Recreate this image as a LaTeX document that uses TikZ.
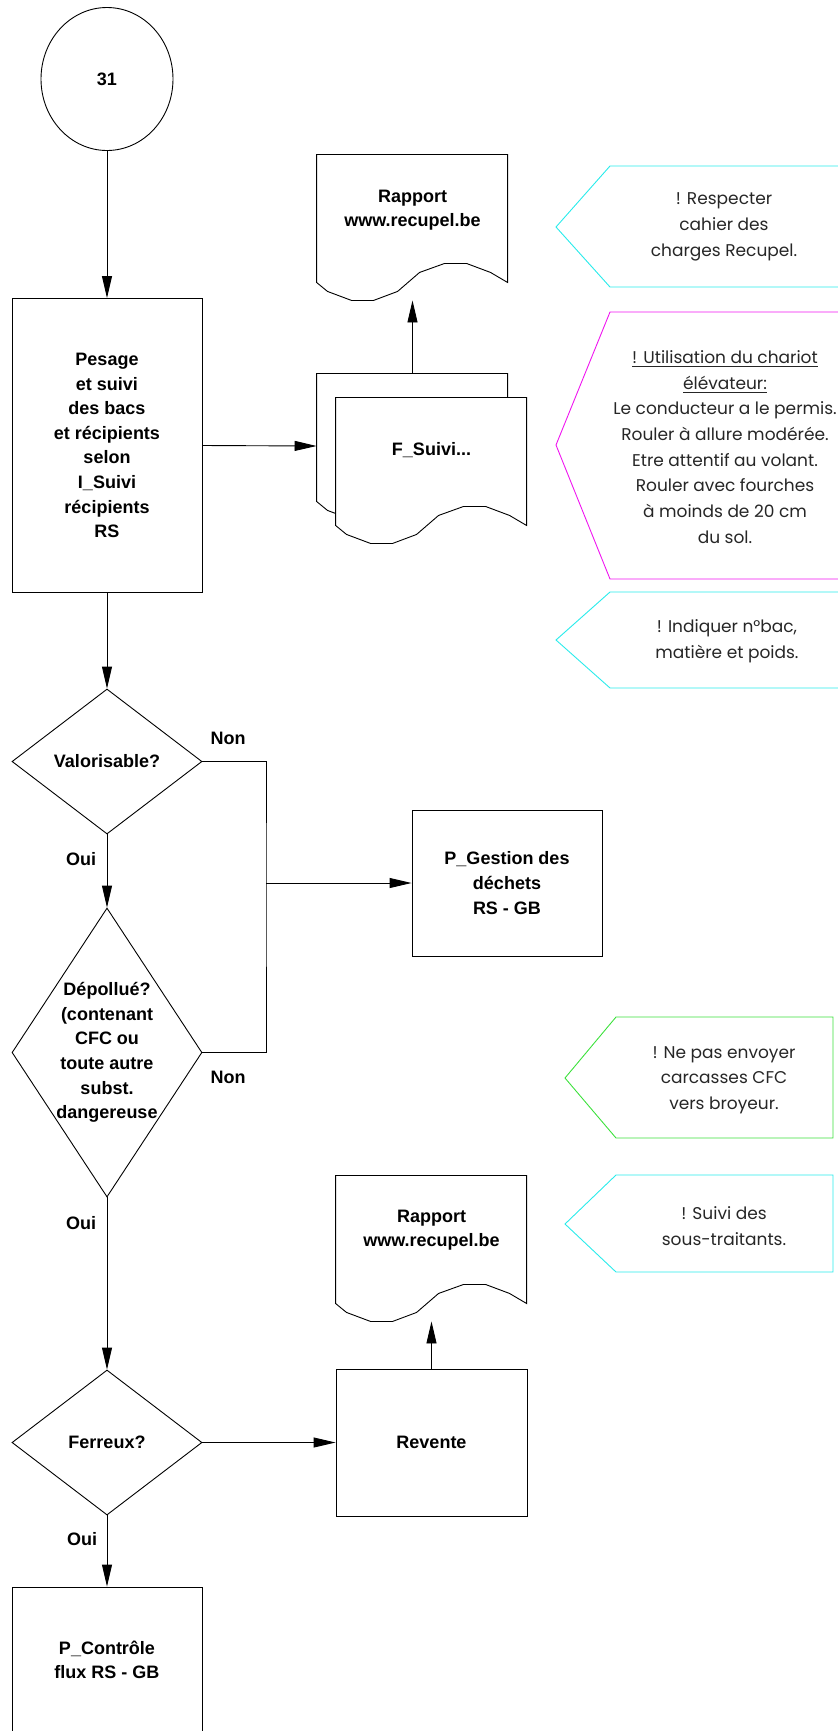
\documentclass[tikz,border=0pt]{standalone}
\usepackage{fontspec}
\setmainfont{Liberation Sans}
\newfontfamily\notefont{Poppins}
\usetikzlibrary{shapes.geometric,arrows.meta}

\definecolor{notecyan}{RGB}{40,235,235}
\definecolor{notemagenta}{RGB}{240,20,240}
\definecolor{notegreen}{RGB}{60,225,60}

% document outline with a wavy bottom, drawn round a docbox node
\newcommand\docoutline[1]{%
  \draw[fill=white,shift={(#1.south west)},x=1pt,y=1pt]
    (0,9) -- (0,73) -- (95.5,73) -- (95.5,9) -- (87,14) -- (75,18.5)
    -- (64,18.5) -- (51.5,14) -- (40.5,4.5) -- (28.5,0) -- (17.5,0)
    -- (5.5,4.5) -- cycle;
}

\tikzset{
  box/.style={draw,rectangle,minimum width=95pt,inner sep=0pt},
  docbox/.style={rectangle,minimum width=95.5pt,minimum height=73pt,inner sep=0pt},
  decision/.style={draw,diamond,minimum width=95pt,inner sep=0pt},
  boxtext/.style={font=\fontsize{9}{12.3}\selectfont\bfseries,align=center},
  note/.style={font=\notefont\fontsize{8.5}{12.85}\selectfont,align=center,text=black!85},
  arr/.style={-{Triangle[length=11pt,width=5pt]}}
}

\begin{document}
\begin{tikzpicture}[x=0.5pt,y=-0.5pt,line width=0.45pt]
\useasboundingbox (0,0) rectangle (838,1731);

% main column
\node[draw,ellipse,minimum width=66pt,minimum height=71.5pt,boxtext] (start) at (107,79) {31};
\node[box,minimum height=147pt,boxtext] (pesage) at (107,445.5)
  {Pesage\\et suivi\\des bacs\\et récipients\\selon\\I\_Suivi\\récipients\\RS};
\node[decision,minimum height=72.5pt,boxtext] (valor) at (107,761.5) {Valorisable?};
\node[decision,minimum height=144.5pt] (depol) at (107,1052.5) {};
\node[boxtext] (depoltext) at (depol.center)
  {Dépollué?\\(contenant\\CFC ou\\toute autre\\subst.\\dangereuse};
\node[decision,minimum height=72.5pt,boxtext] (ferreux) at (107,1442.5) {Ferreux?};
\node[box,minimum height=73pt,boxtext] (controle) at (107,1660) {P\_Contrôle\\flux RS - GB};

% documents
\node[docbox] (rap1) at (412.5,227) {};
\docoutline{rap1}
\node[boxtext] (rap1text) at ([yshift=8.5pt]rap1.center) {Rapport\\www.recupel.be};
\node[docbox] (fsuiviback) at (412.5,446) {};
\docoutline{fsuiviback}
\node[docbox] (fsuivi) at (431.5,470) {};
\docoutline{fsuivi}
\node[boxtext] (fsuivitext) at ([yshift=10pt]fsuivi.center) {F\_Suivi...};
\node[docbox] (rap2) at (431.5,1248) {};
\docoutline{rap2}
\node[boxtext] (rap2text) at ([yshift=9pt]rap2.center) {Rapport\\www.recupel.be};

% right column
\node[box,minimum height=73pt,boxtext] (gestion) at (507,883) {P\_Gestion des\\déchets\\RS - GB};
\node[box,minimum width=95.5pt,minimum height=73.5pt,boxtext] (revente) at (431.5,1442.5) {Revente};
\coordinate (join) at (266,883);

% connectors
\draw[arr] (start.south) -- (pesage.north);
\draw[arr] (pesage.east) -- (fsuiviback.west);
\draw[arr] (fsuiviback.north) -- (rap1.south);
\draw[arr] (pesage.south) -- (valor.north);
\draw[arr] (valor.south) -- (depol.north);
\draw (valor.east) -| (join) |- (depol.east);
\draw[arr] (join) -- (gestion.west);
\draw[arr] (depol.south) -- (ferreux.north);
\draw[arr] (ferreux.east) -- (revente.west);
\draw[arr] (revente.north) -- (rap2.south);
\draw[arr] (ferreux.south) -- (controle.north);

\node[boxtext] (non1) at (228,738) {Non};
\node[boxtext] (non2) at (228,1077) {Non};
\node[boxtext] (oui1) at (81,859) {Oui};
\node[boxtext] (oui2) at (81,1223) {Oui};
\node[boxtext] (oui3) at (82,1539) {Oui};

% remarks
\draw[notecyan] (838,166) -- (610,166) -- (556,227) -- (610,287) -- (838,287);
\node[note] (note1) at (724,227) {! Respecter\\cahier des\\charges Recupel.};
\draw[notemagenta] (838,312) -- (610,312) -- (556,445) -- (610,579) -- (838,579);
\node[note] (note2) at (725,447) {\underline{! Utilisation du chariot}\\\underline{élévateur:}\\
  Le conducteur a le permis.\\Rouler à allure modérée.\\Etre attentif au volant.\\
  Rouler avec fourches\\à moinds de 20 cm\\du sol.};
\draw[notecyan] (838,592) -- (610,592) -- (556,640) -- (610,688) -- (838,688);
\node[note] (note3) at (727,641) {! Indiquer n°bac,\\matière et poids.};
\draw[notegreen] (833,1017) -- (616,1017) -- (565,1078) -- (616,1138) -- (833,1138) -- cycle;
\node[note] (note4) at (724,1080) {! Ne pas envoyer\\carcasses CFC\\vers broyeur.};
\draw[notecyan] (833,1175) -- (616,1175) -- (565,1224) -- (616,1272) -- (833,1272) -- cycle;
\node[note] (note5) at (724,1226) {! Suivi des\\sous-traitants.};
\end{tikzpicture}
\end{document}
